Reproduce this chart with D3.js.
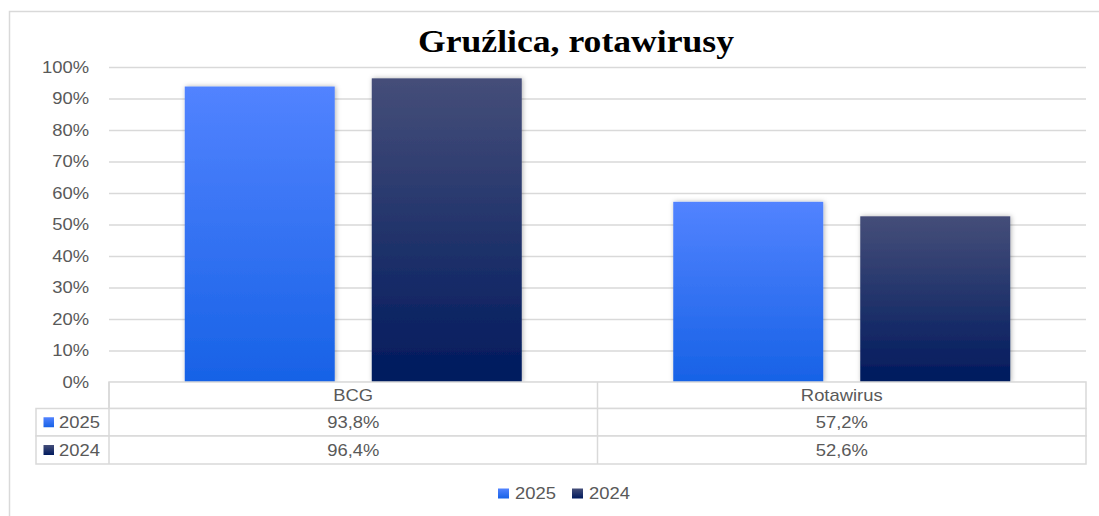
<!DOCTYPE html>
<html><head><meta charset="utf-8">
<script src="https://cdn.jsdelivr.net/npm/d3@7"></script>
<style>body{margin:0;background:#fff;}svg{display:block;}</style>
</head><body>
<script>
const categories = ["BCG", "Rotawirus"];
const seriesNames = ["2025", "2024"];
const values2025 = [93.8, 57.2];
const values2024 = [96.4, 52.6];
const tickValues = [0,10,20,30,40,50,60,70,80,90,100];
const title = "Gruźlica, rotawirusy";

const W = 1099, H = 516;
const SX = 1.15;
const svg = d3.select("body").append("svg").attr("width", W).attr("height", H);
const defs = svg.append("defs");
const grads = [["g2025", "#5283ff", "#1762e6"], ["g2024", "#454e79", "#001a5e"]];
grads.forEach(([id, c1, c2]) => {
  const g = defs.append("linearGradient").attr("id", id).attr("x1",0).attr("y1",0).attr("x2",0).attr("y2",1);
  g.append("stop").attr("offset","0%").attr("stop-color", c1);
  g.append("stop").attr("offset","100%").attr("stop-color", c2);
});
const f = defs.append("filter").attr("id","sh").attr("x","-10%").attr("y","-10%").attr("width","130%").attr("height","130%");
f.append("feDropShadow").attr("dx",1).attr("dy",0).attr("stdDeviation",2.5).attr("flood-color","#000").attr("flood-opacity",0.3);

const fontF = "'Liberation Sans', Arial, sans-serif";
function txt(parent, x, y, s, anchor, size) {
  return parent.append("text").attr("transform", `translate(${x},${y}) scale(${SX},1)`)
    .attr("text-anchor", anchor || "start").attr("font-family", fontF)
    .attr("font-size", size || 16).attr("fill", "#595959").text(s);
}

// outer border
svg.append("rect").attr("x",9.5).attr("y",11.5).attr("width",1200).attr("height",600)
  .attr("fill","none").attr("stroke","#d9d9d9").attr("stroke-width",1.5);

svg.append("text").attr("transform","translate(576,52) scale(1.15,1)").attr("text-anchor","middle")
  .attr("font-family","'Liberation Serif', 'Times New Roman', serif").attr("font-weight","bold")
  .attr("font-size",31).attr("fill","#000").text(title);

const pLeft = 109, pRight = 1086, pTop = 67, pBottom = 382;
const y = d3.scaleLinear().domain([0,100]).range([pBottom, pTop]);
const x0 = d3.scaleBand().domain(categories).range([pLeft, pRight]).padding(0);
const x1 = d3.scaleBand().domain(seriesNames).range([x0.bandwidth()/2 - 168.5, x0.bandwidth()/2 + 168.5]).paddingInner(0.198);

// gridlines + axis labels
const yAxis = d3.axisLeft(y).tickValues(tickValues).tickSize(-(pRight-pLeft)).tickPadding(20/SX)
  .tickFormat(d => d + "%");
const ga = svg.append("g").attr("transform", `translate(${pLeft},0)`).call(yAxis);
ga.select(".domain").remove();
ga.selectAll(".tick line").attr("stroke","#d9d9d9").attr("stroke-width",1.5);
ga.selectAll(".tick text").attr("fill","#595959").attr("font-size",16)
  .attr("font-family",fontF).attr("transform",`scale(${SX},1)`);

const data = categories.map((c,i) => ({c, vals:[{s:"2025", v:values2025[i]},{s:"2024", v:values2024[i]}]}));
const gc = svg.selectAll("g.cat").data(data).join("g").attr("class","cat")
  .attr("transform", d => `translate(${x0(d.c)},0)`);
gc.selectAll("rect").data(d => d.vals).join("rect")
  .attr("x", d => x1(d.s)).attr("width", x1.bandwidth())
  .attr("y", d => y(d.v)).attr("height", d => y(0) - y(d.v))
  .attr("fill", d => `url(#g${d.s})`).attr("filter","url(#sh)");

// data table
const tstroke = "#d9d9d9";
const rowH = [382, 408.5, 436, 464];
const tLeft = 36;
const tg = svg.append("g");
tg.append("rect").attr("x",pLeft).attr("y",rowH[0]).attr("width",pRight-pLeft).attr("height",rowH[1]-rowH[0])
  .attr("fill","#fff").attr("stroke",tstroke).attr("stroke-width",1.5);
[0,1].forEach(r => {
  tg.append("rect").attr("x",tLeft).attr("y",rowH[r+1]).attr("width",pRight-tLeft).attr("height",rowH[r+2]-rowH[r+1])
    .attr("fill","#fff").attr("stroke",tstroke).attr("stroke-width",1.5);
});
[pLeft, x0(categories[0]) + x0.bandwidth()].forEach(xv => {
  tg.append("line").attr("x1",xv).attr("x2",xv).attr("y1",rowH[0]).attr("y2",rowH[3]).attr("stroke",tstroke).attr("stroke-width",1.5);
});
categories.forEach((c,i) => {
  const cx = x0(c) + x0.bandwidth()/2;
  txt(tg, cx, 400.5, c, "middle");
  [values2025[i], values2024[i]].forEach((v,r) => {
    txt(tg, cx, 428 + r*28, v.toFixed(1).replace(".", ",") + "%", "middle");
  });
});
seriesNames.forEach((s,r) => {
  const cy = (rowH[r+1]+rowH[r+2])/2;
  tg.append("rect").attr("x",43.5).attr("y",cy-5).attr("width",10.5).attr("height",10).attr("fill",`url(#g${s})`);
  txt(tg, 59, 428 + r*28, s, "start");
});

// legend
const lg = svg.append("g");
const lx = [498, 572];
seriesNames.forEach((s,i) => {
  lg.append("rect").attr("x",lx[i]).attr("y",488.5).attr("width",11).attr("height",10).attr("fill",`url(#g${s})`);
  txt(lg, lx[i]+17, 499, s, "start");
});
</script>
</body></html>
